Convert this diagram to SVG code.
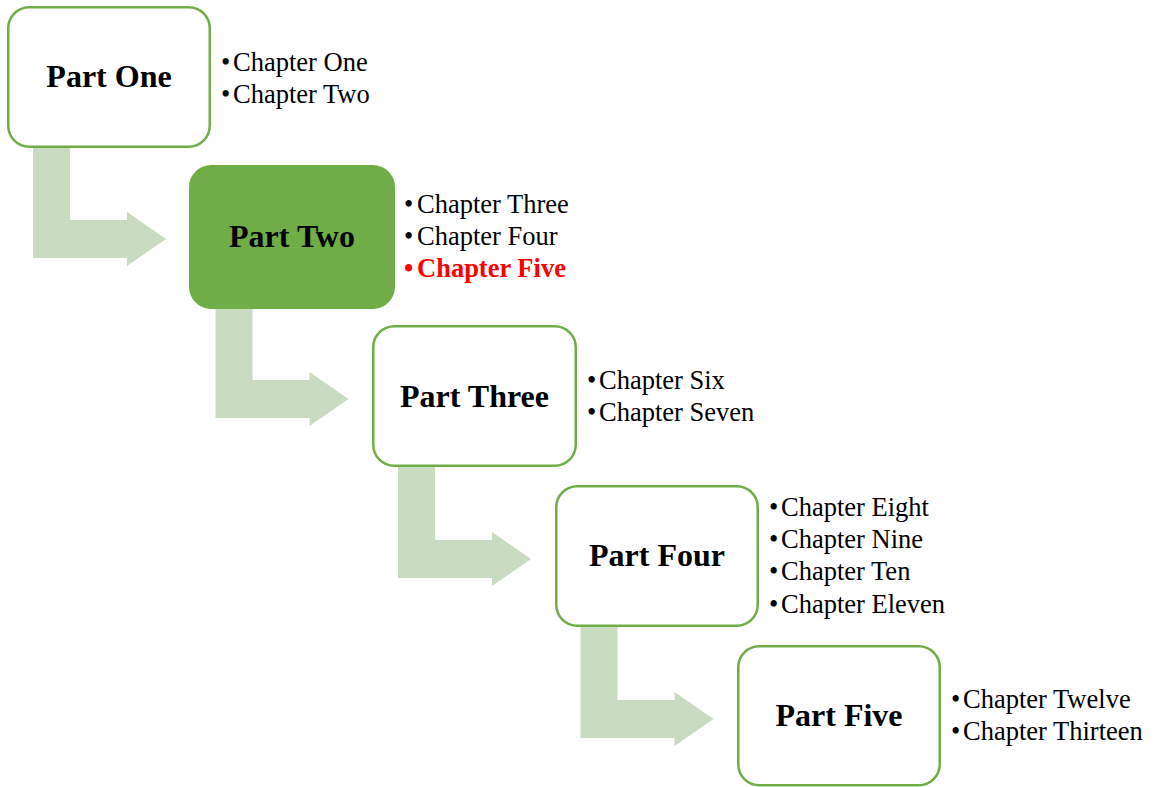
<svg xmlns="http://www.w3.org/2000/svg" width="1154" height="787" viewBox="0 0 1154 787">
  <defs>
    <style>
      .box { fill: #FFFFFF; stroke: #70AD47; stroke-width: 2.5; }
      .box.active { fill: #70AD47; }
      .title { font-family: "Liberation Serif", "Times New Roman", serif; font-weight: bold; font-size: 32px; fill: #000000; text-anchor: middle; }
      .item { font-family: "Liberation Serif", "Times New Roman", serif; font-size: 26.5px; fill: #000000; }
      .item.hot { fill: #FF0000; font-weight: bold; }
      .flow { fill: #C9DCC2; }
    </style>
    <!-- bent arrow: drops from one box, turns right into the next -->
    <polygon id="bend" points="33,146 70,146 70,220 127,220 127,212 166,239 127,266 127,258 33,258"/>
  </defs>
  <rect width="1154" height="787" fill="#FFFFFF"/>

  <g id="connectors" class="flow">
    <use href="#bend"/>
    <use href="#bend" transform="translate(182.5,160)"/>
    <use href="#bend" transform="translate(365,320)"/>
    <use href="#bend" transform="translate(547.5,480)"/>
  </g>

  <g id="part-one">
    <rect class="box" x="8.25" y="7.25" width="201.5" height="139.5" rx="21"/>
    <text class="title" x="109" y="87">Part One</text>
    <text class="item" x="221" y="71">•</text>
    <text class="item" x="233" y="71">Chapter One</text>
    <text class="item" x="221" y="103">•</text>
    <text class="item" x="233" y="103">Chapter Two</text>
  </g>

  <g id="part-two">
    <rect class="box active" x="190.25" y="166.25" width="203.5" height="141.5" rx="21"/>
    <text class="title" x="292" y="247">Part Two</text>
    <text class="item" x="404" y="213">•</text>
    <text class="item" x="417" y="213">Chapter Three</text>
    <text class="item" x="404" y="245">•</text>
    <text class="item" x="417" y="245">Chapter Four</text>
    <text class="item hot" x="404" y="277">•</text>
    <text class="item hot" x="417" y="277">Chapter Five</text>
  </g>

  <g id="part-three">
    <rect class="box" x="373.25" y="326.25" width="202.5" height="139.5" rx="21"/>
    <text class="title" x="474.5" y="407">Part Three</text>
    <text class="item" x="587" y="389">•</text>
    <text class="item" x="599" y="389">Chapter Six</text>
    <text class="item" x="587" y="421">•</text>
    <text class="item" x="599" y="421">Chapter Seven</text>
  </g>

  <g id="part-four">
    <rect class="box" x="556.25" y="486.25" width="201.5" height="139.5" rx="21"/>
    <text class="title" x="657" y="566">Part Four</text>
    <text class="item" x="769" y="516">•</text>
    <text class="item" x="781" y="516">Chapter Eight</text>
    <text class="item" x="769" y="548">•</text>
    <text class="item" x="781" y="548">Chapter Nine</text>
    <text class="item" x="769" y="580">•</text>
    <text class="item" x="781" y="580">Chapter Ten</text>
    <text class="item" x="769" y="613">•</text>
    <text class="item" x="781" y="613">Chapter Eleven</text>
  </g>

  <g id="part-five">
    <rect class="box" x="738.25" y="646.25" width="201.5" height="139" rx="21"/>
    <text class="title" x="839" y="726">Part Five</text>
    <text class="item" x="951" y="708">•</text>
    <text class="item" x="963" y="708">Chapter Twelve</text>
    <text class="item" x="951" y="740">•</text>
    <text class="item" x="963" y="740">Chapter Thirteen</text>
  </g>
</svg>
